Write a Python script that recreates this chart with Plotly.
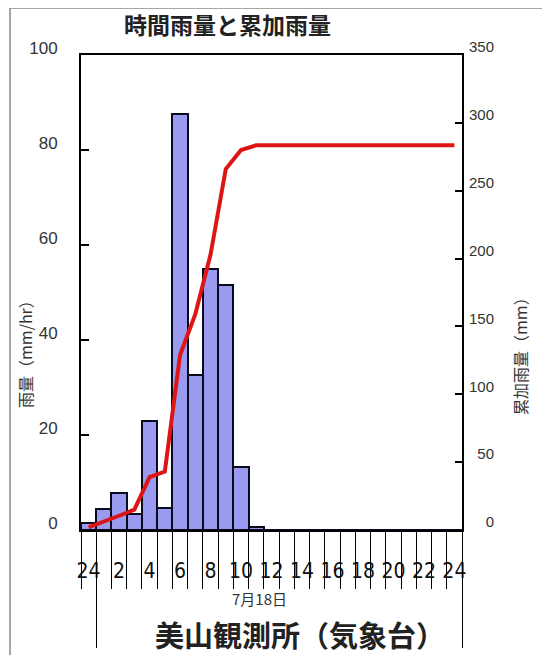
import plotly.graph_objects as go

# ---- data ----
hour_labels = ["24"] + [str(h) for h in range(1, 25)]          # 25 hourly bins (prev-day 24h, then 1..24 of 7/18)
hourly_rain = [1.5, 4.5, 7.7, 3.3, 22.9, 4.7, 87.5, 32.6, 54.9, 51.6, 13.2, 0.7,
               0, 0, 0, 0, 0, 0, 0, 0, 0, 0, 0, 0, 0]           # mm/hr
cumulative_rain = [2, 6, 10.5, 15, 39, 43, 129, 159, 203, 266, 280, 283.5,
                   283.5, 283.5, 283.5, 283.5, 283.5, 283.5, 283.5, 283.5,
                   283.5, 283.5, 283.5, 283.5, 283.5]             # mm
left_ticks = [0, 20, 40, 60, 80, 100]
right_ticks = [0, 50, 100, 150, 200, 250, 300, 350]
x_tick_labels = ["24", "2", "4", "6", "8", "10", "12", "14", "16", "18", "20", "22", "24"]

xpos = list(range(len(hour_labels)))
label_pos = xpos[::2]
boundaries = [p - 0.5 for p in xpos] + [xpos[-1] + 0.5]
day_bounds = [0.5, xpos[-1] + 0.5]
xrange_ = [-0.5, xpos[-1] + 0.5]

CJK = "Noto Sans CJK JP"
NUM = "Liberation Sans, Arial, sans-serif"
NARROW = "Liberation Sans Narrow, DejaVu Sans Condensed, Arial Narrow, Liberation Sans, sans-serif"

fig = go.Figure()
fig.add_trace(go.Bar(
    x=xpos, y=hourly_rain, width=1,
    marker=dict(color="#9a9af0", line=dict(color="#0a0a1e", width=2)),
    xaxis="x", yaxis="y", showlegend=False,
))
fig.add_trace(go.Scatter(
    x=xpos, y=cumulative_rain, mode="lines",
    line=dict(color="#dd1515", width=4),
    xaxis="x2", yaxis="y2", showlegend=False,
))
# empty helper trace so the day-boundary axis gets drawn
fig.add_trace(go.Scatter(x=[], y=[], xaxis="x3", yaxis="y", showlegend=False,
                         hoverinfo="skip"))

right_text = [("\u2007" * (3 - len(str(v)))) + str(v) for v in right_ticks]

# page has an 8px body margin: plot area lands at page x 81..462, y 55..530
fig.update_layout(
    width=550, height=655,
    margin=dict(l=73, r=96, t=47, b=133),
    paper_bgcolor="white", plot_bgcolor="white",
    bargap=0,
    xaxis=dict(
        range=xrange_, domain=[0, 1], automargin=False,
        tickmode="array", tickvals=boundaries, showticklabels=False,
        ticks="outside", ticklen=57, tickwidth=1, tickcolor="black",
        showgrid=False, zeroline=False,
        showline=True, linecolor="black", linewidth=2, mirror=True,
    ),
    xaxis2=dict(
        overlaying="x", anchor="y2", side="bottom", range=xrange_, automargin=False,
        tickmode="array", tickvals=label_pos, ticktext=x_tick_labels, tickangle=0,
        ticks="", showgrid=False, zeroline=False, showline=False,
        tickfont=dict(family=NARROW, size=21, color="#111"),
        ticklabelstandoff=26,
    ),
    xaxis3=dict(
        overlaying="x", anchor="y", side="bottom", range=xrange_, automargin=False,
        tickmode="array", tickvals=day_bounds, ticks="outside",
        ticklen=117, tickwidth=1, tickcolor="black",
        showticklabels=False, showgrid=False, zeroline=False, showline=False,
    ),
    yaxis=dict(
        range=[0, 100], tickmode="array", tickvals=left_ticks, automargin=False,
        ticks="inside", ticklen=8, tickwidth=1.5, tickcolor="black",
        showgrid=False, zeroline=False,
        showline=True, linecolor="black", linewidth=2,
        tickfont=dict(family=NUM, size=17, color="#333"),
        ticklabelstandoff=18, ticklabelshift=-7,
    ),
    yaxis2=dict(
        range=[0, 350], overlaying="y", side="right", anchor="x", automargin=False,
        tickmode="array", tickvals=right_ticks, ticktext=right_text,
        ticks="inside", ticklen=7, tickwidth=1.5, tickcolor="black",
        showgrid=False, zeroline=False,
        showline=True, linecolor="black", linewidth=2,
        tickfont=dict(family=NUM, size=15, color="#333"),
        ticklabelstandoff=2, ticklabelshift=-8,
    ),
)

W, H = 381.0, 475.0
def px(xp):
    return (xp - 81) / W
def py(yp):
    return (530 - yp) / H

def label(text, x, y, size, color, angle=0):
    fig.add_annotation(text=text, xref="paper", yref="paper",
                       x=px(x), y=py(y), xanchor="center", yanchor="middle",
                       showarrow=False, textangle=angle,
                       font=dict(family=CJK, size=size, color=color))

label("<b>時間雨量と累加雨量</b>", 227, 24, 23, "#222")
label("7月18日", 259, 598, 15, "#333")
label("<b>美山観測所（気象台）</b>", 300, 634, 29, "#222")
label("雨量（mm/hr）", 25, 350, 16, "#333", -90)
label("累加雨量（mm）", 520, 352, 16, "#333", -90)

fig.add_shape(type="rect", xref="paper", yref="paper",
              x0=px(10), x1=px(549), y0=py(8), y1=py(670),
              line=dict(color="#8a8a8a", width=1.5), fillcolor="rgba(0,0,0,0)",
              layer="below")

fig.write_html("out.html")
